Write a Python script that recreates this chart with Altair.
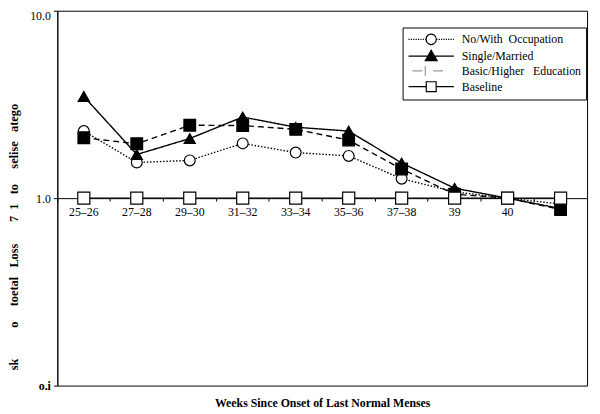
import altair as alt
import pandas as pd

weeks = ["25–26", "27–28", "29–30", "31–32", "33–34", "35–36", "37–38", "39", "40", "41"]
series_names = ["No/With Occupation", "Single/Married", "Basic/Higher Education", "Baseline"]
legend_labels = ["No/With\u00a0\u00a0Occupation", "Single/Married", "Basic/Higher\u00a0\u00a0\u00a0Education", "Baseline"]
occupation = [2.28, 1.55, 1.59, 1.96, 1.75, 1.68, 1.27, 1.08, 1.0, 0.93]
single_married = [3.49, 1.71, 2.08, 2.71, 2.39, 2.28, 1.54, 1.13, 1.0, 0.88]
education = [2.10, 1.95, 2.45, 2.44, 2.33, 2.04, 1.43, 1.05, 1.0, 0.87]
baseline = [1.0, 1.0, 1.0, 1.0, 1.0, 1.0, 1.0, 1.0, 1.0, 1.0]

NB = "\u00a0"
y_title = ("sk" + NB * 10 + "o" + NB * 5 + "toetal" + NB * 3 + "Loss" + NB * 7 + "7" + NB * 2 + "1"
           + NB * 3 + "to" + NB * 5 + "selise" + NB * 3 + "atego")

rows = []
for name, vals in zip(series_names, [occupation, single_married, education, baseline]):
    for i, (w, v) in enumerate(zip(weeks, vals)):
        rows.append({"week": w, "series": name, "value": v, "order": i})
df = pd.DataFrame(rows)
label_map = dict(zip(series_names, legend_labels))
df["label"] = df["series"].map(label_map)

FONT = "Liberation Serif"
W, H = 537, 380

# legend symbol paths (unit = 6 px); symbol centre at 0, marker centre at 17px
u = lambda px: round(px / 6.0, 4)
def dots(a, b):
    s = ""
    x = a
    while x < b:
        s += f"M{u(x)},0H{u(min(x + 1.2, b))}"
        x += 2.4
    return s

r = 5.2
circ = f"M{u(17 - r)},0A{u(r)},{u(r)} 0 1,0 {u(17 + r)},0A{u(r)},{u(r)} 0 1,0 {u(17 - r)},0Z"
p_occ = dots(-6, 11.8) + dots(22.2, 40) + circ
p_single = f"M{u(-6)},0H{u(40)}M{u(17)},{u(-6)}L{u(23)},{u(4.5)}L{u(11)},{u(4.5)}Z"
p_edu = f"M{u(-2)},0H{u(8)}M{u(11)},{u(-5)}V{u(5)}M{u(19)},0H{u(29)}"
p_base = f"M{u(-6)},0H{u(12)}M{u(22)},0H{u(40)}M{u(12)},{u(-5)}H{u(22)}V{u(5)}H{u(12)}Z"

x_enc = alt.X(
    "week:N",
    sort=weeks,
    scale=alt.Scale(type="band", paddingInner=0, paddingOuter=0),
    axis=alt.Axis(
        title="Weeks Since Onset of Last Normal Menses",
        titleFont=FONT, titleFontSize=12, titleFontWeight="bold", titleColor="black",
        titleY=207, titleBaseline="middle",
        offset=-190, labelAngle=0, labelFont=FONT, labelFontSize=12, labelColor="black",
        labelPadding=6, bandPosition=0,
        tickSize=3, tickColor="black", domainColor="black", grid=False,
    ),
)

y_enc = alt.Y(
    "value:Q",
    scale=alt.Scale(type="log", domain=[0.1, 10], nice=False),
    axis=alt.Axis(
        title=y_title,
        titleFont=FONT, titleFontSize=12.5, titleFontWeight="bold", titleColor="black",
        titleX=-44, titleY=229, titleAngle=-90, titleAlign="center", titleBaseline="middle",
        values=[0.1, 1, 10],
        labelExpr="datum.value >= 5 ? '10.0' : (datum.value >= 0.5 ? '1.0' : 'o.i')",
        labelFontWeight={"condition": {"test": "datum.value < 0.5", "value": "bold"}, "value": "normal"},
        labelBaseline={"condition": {"test": "datum.value > 5", "value": "top"}, "value": "middle"},
        labelFont=FONT, labelFontSize=12, labelColor="black", labelPadding=3,
        tickSize=4, tickColor="black", domainColor="black", grid=False,
    ),
)

lines = alt.Chart(df).mark_line(color="black", strokeWidth=1.4).encode(
    x=x_enc,
    y=y_enc,
    detail="series:N",
    order="order:Q",
    strokeDash=alt.StrokeDash(
        "series:N",
        scale=alt.Scale(domain=series_names, range=[[1.5, 1.8], [1, 0], [6, 4], [1, 0]]),
        legend=None,
    ),
)

points = alt.Chart(df).mark_point(filled=False, stroke="black", strokeWidth=1.2, opacity=1).encode(
    x=alt.X("week:N", sort=weeks),
    y="value:Q",
    shape=alt.Shape(
        "series:N",
        scale=alt.Scale(domain=series_names, range=["circle", "triangle-up", "square", "square"]),
        legend=None,
    ),
    fill=alt.Fill(
        "series:N",
        scale=alt.Scale(domain=series_names, range=["white", "black", "black", "white"]),
        legend=None,
    ),
    size=alt.Size(
        "series:N",
        scale=alt.Scale(domain=series_names, range=[120, 150, 95, 120]),
        legend=None,
    ),
)

def make_legend():
    return alt.Legend(
        title=None, orient="none", legendX=350, legendY=17,
        symbolSize=144, labelOffset=41, rowPadding=0, padding=5,
        strokeColor="black", fillColor="white",
        labelFont=FONT, labelFontSize=12, labelColor="black",
        symbolStrokeWidth=1.2, symbolOpacity=1,
    )

legend_layer = alt.Chart(df).mark_point(opacity=0, size=144).encode(
    x=alt.X("week:N", sort=weeks),
    y="value:Q",
    shape=alt.Shape(
        "label:N",
        scale=alt.Scale(domain=legend_labels, range=[p_occ, p_single, p_edu, p_base]),
        legend=make_legend(),
    ),
    fill=alt.Fill(
        "label:N",
        scale=alt.Scale(domain=legend_labels, range=["white", "black", "white", "white"]),
        legend=make_legend(),
    ),
    stroke=alt.Stroke(
        "label:N",
        scale=alt.Scale(domain=legend_labels, range=["black", "black", "#999999", "black"]),
        legend=make_legend(),
    ),
)

chart = (
    alt.layer(lines, points, legend_layer)
    .resolve_scale(shape="independent", fill="independent", stroke="independent")
    .properties(
        width=W,
        height=H,
        autosize=alt.AutoSizeParams(type="none"),
        padding={"left": 50, "top": 0, "right": 5, "bottom": 24},
        background="white",
    )
    .configure_view(stroke="black", strokeWidth=1)
    .configure_axis(labelFont=FONT, titleFont=FONT)
    .configure_legend(labelFont=FONT)
)

chart.save("out.html", embed_options={"renderer": "svg", "actions": False})
